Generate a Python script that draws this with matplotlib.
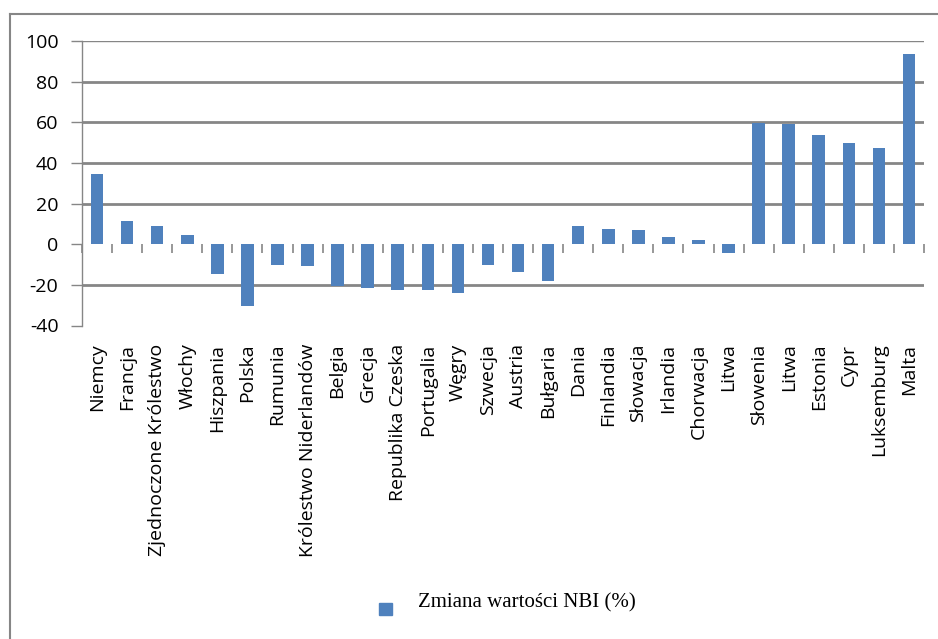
import matplotlib
matplotlib.use('Agg')
import matplotlib.pyplot as plt
from matplotlib.lines import Line2D
from matplotlib.patches import Rectangle
import numpy as np

# Dane
kraje = ['Niemcy', 'Francja', 'Zjednoczone Królestwo', 'Włochy', 'Hiszpania',
         'Polska', 'Rumunia', 'Królestwo Niderlandów', 'Belgia', 'Grecja',
         'Republika Czeska', 'Portugalia', 'Węgry', 'Szwecja', 'Austria',
         'Bułgaria', 'Dania', 'Finlandia', 'Słowacja', 'Irlandia', 'Chorwacja',
         'Litwa', 'Słowenia', 'Litwa', 'Estonia', 'Cypr', 'Luksemburg', 'Malta']
zmiana_nbi = [34.5, 11.3, 8.9, 4.4, -14.5, -30.4, -10.3, -10.8, -20.5, -21.5,
              -22.7, -22.7, -24.1, -10.3, -13.8, -18.2, 8.9, 7.4, 6.9, 3.4, 2.0,
              -4.4, 59.8, 59.1, 53.7, 49.8, 47.3, 93.6]
y_ticks = [-40, -20, 0, 20, 40, 60, 80, 100]
legenda = 'Zmiana wartości NBI (%)'

kolor = '#4F81BD'
szary = '#868686'

plt.rcParams['font.family'] = ['Open Sans', 'DejaVu Sans']

fig = plt.figure(figsize=(9.38, 6.39), dpi=100)
ax = fig.add_axes([82 / 938, 1 - 325.5 / 639, (924 - 82) / 938, (325.5 - 41) / 639])

x = np.arange(len(kraje))
ax.bar(x, zmiana_nbi, width=0.42, color=kolor, zorder=3)

ax.set_xlim(-0.5, len(kraje) - 0.5)
ax.set_ylim(-40, 100)
ax.set_yticks(y_ticks)
ax.set_yticklabels([str(v) for v in y_ticks], fontsize=14)

# linie siatki (bez 0 i -40)
for v in y_ticks:
    if v in (0, -40):
        continue
    ax.axhline(v, color=szary, lw=1.0 if v == 100 else 2.0, zorder=1)

# znaczniki kategorii na osi 0
granice = np.arange(len(kraje) + 1) - 0.5
ax.vlines(granice, -4.4, 0, color=szary, lw=1.2, zorder=2, clip_on=False)

ax.set_xticks(x)
ax.set_xticklabels(kraje, rotation=90, fontsize=14, va='top', ha='center')
ax.tick_params(axis='x', length=0, pad=13)
ax.tick_params(axis='y', length=8, color=szary, width=1.0, pad=9)

for s in ['top', 'right', 'bottom']:
    ax.spines[s].set_visible(False)
ax.spines['left'].set_color(szary)
ax.spines['left'].set_linewidth(1.0)

# ramka wykresu (lewa i górna krawędź)
fig.add_artist(Line2D([10 / 938, 10 / 938], [0, 1 - 14 / 639], transform=fig.transFigure,
                      color=szary, lw=1.5))
fig.add_artist(Line2D([10 / 938, 1], [1 - 14 / 639, 1 - 14 / 639], transform=fig.transFigure,
                      color=szary, lw=1.5))

# legenda
fig.add_artist(Rectangle((379 / 938, 1 - 615 / 639), 13 / 938, 12 / 639,
                         transform=fig.transFigure, color=kolor))
fig.text(418 / 938, 1 - 603 / 639, legenda, family='Liberation Serif',
         fontsize=15, va='center', ha='left')

fig.savefig('out.png', dpi=100)
